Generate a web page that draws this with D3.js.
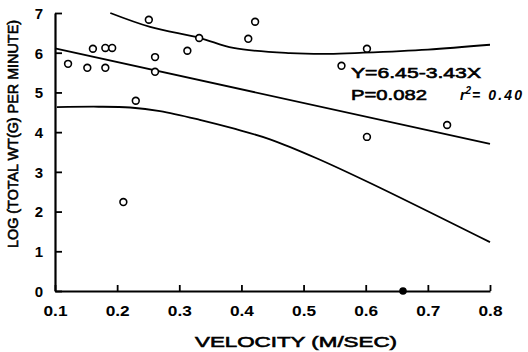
<!DOCTYPE html>
<html><head><meta charset="utf-8">
<script src="https://cdn.jsdelivr.net/npm/d3@7"></script>
<style>
body{margin:0;background:#fff;}
text{font-family:"Liberation Sans",Arial,sans-serif;fill:#000;}
</style></head>
<body><svg id="c" width="528" height="352"></svg>
<script>
// Observations (velocity m/s, log total wt per minute)
const velocity = [0.121,0.152,0.161,0.181,0.181,0.192,0.210,0.230,0.251,0.261,0.261,0.313,0.332,0.411,0.422,0.561,0.602,0.602,0.731];
const logWt    = [5.72,5.62,6.10,5.62,6.12,6.12,2.24,4.79,6.83,5.89,5.52,6.05,6.37,6.35,6.78,5.67,6.10,3.88,4.18];
const filledX = [0.660];
const filledY = [0.0];
// Regression line ends
const regX = [0.1, 0.8];
const regY = [6.107, 3.706];
// Confidence band curves
const upperX = [0.189,0.253,0.333,0.387,0.478,0.540,0.596,0.700,0.8];
const upperY = [7.0,6.65,6.37,6.12,5.99,5.97,6.0,6.08,6.2];
const lowerX = [0.103,0.170,0.221,0.269,0.333,0.390,0.446,0.520,0.607,0.8];
const lowerY = [4.63,4.64,4.62,4.53,4.31,4.08,3.82,3.35,2.72,1.23];
const xTicks = [0.1,0.2,0.3,0.4,0.5,0.6,0.7,0.8];
const yTicks = [0,1,2,3,4,5,6,7];

const svg = d3.select("#c");
const x = d3.scaleLinear().domain([0.1,0.8]).range([55,490]);
const y = d3.scaleLinear().domain([0,7]).range([291,13]);

// axes
const xa = svg.append("g").attr("transform","translate(0,291)")
  .call(d3.axisBottom(x).tickValues(xTicks).tickSizeInner(-6).tickSizeOuter(0).tickPadding(14).tickFormat(d3.format(".1f")));
const ya = svg.append("g").attr("transform","translate(55,0)")
  .call(d3.axisLeft(y).tickValues(yTicks).tickSizeInner(-7).tickSizeOuter(0).tickPadding(12).tickFormat(d3.format("d")));
[xa,ya].forEach(a=>{
  a.select(".domain").attr("stroke","#000").attr("stroke-width",2.2);
  a.selectAll(".tick line").attr("stroke","#000").attr("stroke-width",1.8);
  a.selectAll(".tick text").attr("font-size",15).attr("font-weight","bold").attr("fill","#000").attr("font-family","Liberation Sans, Arial, sans-serif");
});
xa.selectAll(".tick text").attr("textLength",24).attr("lengthAdjust","spacingAndGlyphs");
ya.selectAll(".tick text").attr("dy","0.36em");

const line = d3.line().x(d=>x(d[0])).y(d=>y(d[1]));
const smooth = d3.line().x(d=>x(d[0])).y(d=>y(d[1])).curve(d3.curveCatmullRom.alpha(0.5));
svg.append("path").attr("d",line(regX.map((v,i)=>[v,regY[i]]))).attr("fill","none").attr("stroke","#000").attr("stroke-width",1.8);
svg.append("path").attr("d",smooth(upperX.map((v,i)=>[v,upperY[i]]))).attr("fill","none").attr("stroke","#000").attr("stroke-width",1.8);
svg.append("path").attr("d",smooth(lowerX.map((v,i)=>[v,lowerY[i]]))).attr("fill","none").attr("stroke","#000").attr("stroke-width",1.8);

svg.selectAll("circle.o").data(velocity.map((v,i)=>[v,logWt[i]])).enter().append("circle")
  .attr("class","o").attr("cx",d=>x(d[0])).attr("cy",d=>y(d[1])).attr("r",3.4)
  .attr("fill","#fff").attr("stroke","#000").attr("stroke-width",1.6);
svg.selectAll("circle.f").data(filledX.map((v,i)=>[v,filledY[i]])).enter().append("circle")
  .attr("class","f").attr("cx",d=>x(d[0])).attr("cy",d=>y(d[1])).attr("r",3.8)
  .attr("fill","#000");

// annotations
svg.append("text").attr("x",351).attr("y",78).attr("font-size",15).attr("stroke","#000").attr("stroke-width",0.6)
  .attr("textLength",130).attr("lengthAdjust","spacingAndGlyphs").text("Y=6.45-3.43X");
svg.append("text").attr("x",351).attr("y",100).attr("font-size",15).attr("stroke","#000").attr("stroke-width",0.6)
  .attr("textLength",76).attr("lengthAdjust","spacingAndGlyphs").text("P=0.082");
const r2 = svg.append("text").attr("x",460).attr("y",100).attr("font-size",14).attr("font-weight","bold").attr("font-style","italic");
r2.append("tspan").text("r");
r2.append("tspan").attr("dy",-6).attr("font-size",10).text("2");
r2.append("tspan").attr("dy",6).attr("dx",1).attr("textLength",50).attr("lengthAdjust","spacing").text("= 0.40");

// axis titles
svg.append("text").attr("x",296).attr("y",347).attr("text-anchor","middle").attr("font-size",15).attr("stroke","#000").attr("stroke-width",0.6)
  .attr("textLength",202).attr("lengthAdjust","spacingAndGlyphs").text("VELOCITY (M/SEC)");
svg.append("text").attr("transform","translate(18,134) rotate(-90)").attr("text-anchor","middle").attr("font-size",14.5).attr("stroke","#000").attr("stroke-width",0.6)
  .attr("textLength",228).attr("lengthAdjust","spacingAndGlyphs").text("LOG (TOTAL WT(G) PER MINUTE)");
</script></body></html>
